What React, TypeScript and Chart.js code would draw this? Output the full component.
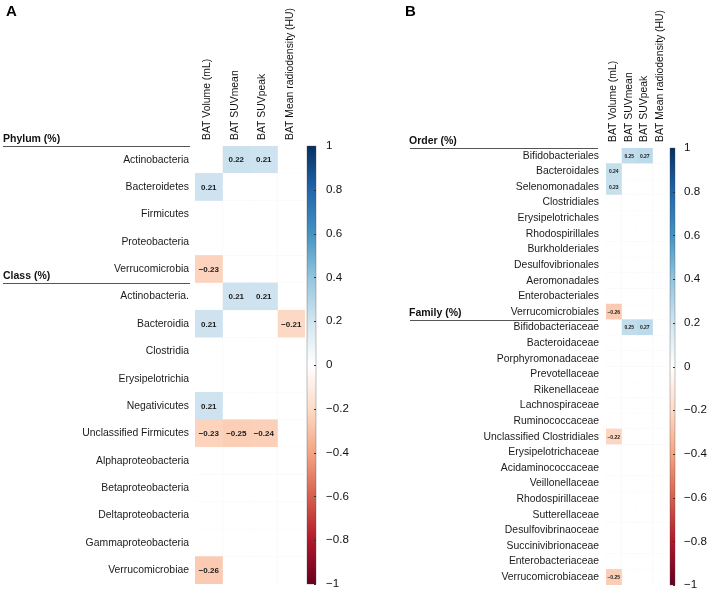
import React, { useEffect, useRef } from 'react';
import { Chart, registerables } from 'chart.js';
Chart.register(...registerables);

const FONT = '"Liberation Sans", Arial, Helvetica, sans-serif';

// ---------- data ----------
const measures = ['BAT Volume (mL)', 'BAT SUVmean', 'BAT SUVpeak', 'BAT Mean radiodensity (HU)'];

const taxaA = [
  'Actinobacteria', 'Bacteroidetes', 'Firmicutes', 'Proteobacteria', 'Verrucomicrobia',
  'Actinobacteria.', 'Bacteroidia', 'Clostridia', 'Erysipelotrichia', 'Negativicutes',
  'Unclassified Firmicutes', 'Alphaproteobacteria', 'Betaproteobacteria', 'Deltaproteobacteria',
  'Gammaproteobacteria', 'Verrucomicrobiae',
];
const groupLabelsA = ['Phylum (%)', 'Class (%)'];
const groupStartA = [0, 5];
const volumeA = [null, 0.21, null, null, -0.23, null, 0.21, null, null, 0.21, -0.23, null, null, null, null, -0.26];
const suvMeanA = [0.22, null, null, null, null, 0.21, null, null, null, null, -0.25, null, null, null, null, null];
const suvPeakA = [0.21, null, null, null, null, 0.21, null, null, null, null, -0.24, null, null, null, null, null];
const radioA = [null, null, null, null, null, null, -0.21, null, null, null, null, null, null, null, null, null];

const taxaB = [
  'Bifidobacteriales', 'Bacteroidales', 'Selenomonadales', 'Clostridiales', 'Erysipelotrichales',
  'Rhodospirillales', 'Burkholderiales', 'Desulfovibrionales', 'Aeromonadales', 'Enterobacteriales',
  'Verrucomicrobiales', 'Bifidobacteriaceae', 'Bacteroidaceae', 'Porphyromonadaceae', 'Prevotellaceae',
  'Rikenellaceae', 'Lachnospiraceae', 'Ruminococcaceae', 'Unclassified Clostridiales', 'Erysipelotrichaceae',
  'Acidaminococcaceae', 'Veillonellaceae', 'Rhodospirillaceae', 'Sutterellaceae', 'Desulfovibrinaoceae',
  'Succinivibrionaceae', 'Enterobacteriaceae', 'Verrucomicrobiaceae',
];
const groupLabelsB = ['Order (%)', 'Family (%)'];
const groupStartB = [0, 11];
const volumeB = [null, 0.24, 0.23, null, null, null, null, null, null, null, -0.26, null, null, null,
  null, null, null, null, -0.22, null, null, null, null, null, null, null, null, -0.25];
const suvMeanB = [0.25, null, null, null, null, null, null, null, null, null, null, 0.25, null, null,
  null, null, null, null, null, null, null, null, null, null, null, null, null, null];
const suvPeakB = [0.27, null, null, null, null, null, null, null, null, null, null, 0.27, null, null,
  null, null, null, null, null, null, null, null, null, null, null, null, null, null];
const radioB = [null, null, null, null, null, null, null, null, null, null, null, null, null, null,
  null, null, null, null, null, null, null, null, null, null, null, null, null, null];

const colorTicks = [1, 0.8, 0.6, 0.4, 0.2, 0, -0.2, -0.4, -0.6, -0.8, -1];
const rdBu = ['#67001F', '#B2182B', '#D6604D', '#F4A582', '#FDDBC7', '#FFFFFF', '#D1E5F0', '#92C5DE', '#4393C3', '#2166AC', '#053061'];

// ---------- helpers ----------
function hexToRgb(h: string) {
  return [parseInt(h.slice(1, 3), 16), parseInt(h.slice(3, 5), 16), parseInt(h.slice(5, 7), 16)];
}
function colorFor(v: number | null) {
  if (v == null) return '#ffffff';
  const t = ((v + 1) / 2) * (rdBu.length - 1);
  const i = Math.min(Math.floor(t), rdBu.length - 2);
  const f = t - i;
  const a = hexToRgb(rdBu[i]);
  const b = hexToRgb(rdBu[i + 1]);
  const c = a.map((x, k) => Math.round(x + (b[k] - x) * f));
  return `rgb(${c[0]},${c[1]},${c[2]})`;
}
const fmtVal = (v: number) => (v < 0 ? '\u2212' : '') + Math.abs(v).toFixed(2);
const fmtTick = (v: number) => {
  const r = Math.round(v * 10) / 10;
  if (r === 0) return '0';
  return (r < 0 ? '\u2212' : '') + String(Math.abs(r));
};
const zeroPad = (axis: any) => {
  axis.paddingTop = 0;
  axis.paddingBottom = 0;
  axis.paddingLeft = 0;
  axis.paddingRight = 0;
};

type PanelProps = {
  left: number;
  width: number;
  letter: string;
  letterX: number;
  taxa: string[];
  columns: (number | null)[][];
  groupLabels: string[];
  groupStart: number[];
  yWidth: number;
  xHeight: number;
  ycWidth: number;
  padBottom: number;
  yPad: number;
  xPad: number;
  xLabelOffset: number;
  ycPad: number;
  cbGap: number;
  cbWidth: number;
  valueFont: number;
  headerX: number;
  lineX0: number;
  lineRightGap: number;
};

function Panel(p: PanelProps) {
  const ref = useRef<HTMLCanvasElement | null>(null);
  useEffect(() => {
    if (!ref.current) return;
    const datasets = p.columns.map((vals, ci) => ({
      label: measures[ci],
      data: p.taxa.map(() => [ci, ci + 1]),
      backgroundColor: vals.map((v) => colorFor(v)),
      borderColor: '#f8f8f8',
      borderWidth: vals.map((v) => (v == null ? 0.5 : 0)),
      borderSkipped: false,
      grouped: false,
      barPercentage: 1,
      categoryPercentage: 1,
      xAxisID: 'x',
      yAxisID: 'y',
    }));

    const decor = {
      id: 'decor',
      afterDatasetsDraw(chart: any) {
        const ctx = chart.ctx as CanvasRenderingContext2D;
        const area = chart.chartArea;
        const ys = chart.scales.y;
        // cell values
        ctx.save();
        ctx.font = `bold ${p.valueFont}px ${FONT}`;
        ctx.fillStyle = '#1a1a1a';
        ctx.textAlign = 'center';
        ctx.textBaseline = 'middle';
        p.columns.forEach((vals, ci) => {
          const meta = chart.getDatasetMeta(ci);
          meta.data.forEach((el: any, ri: number) => {
            const v = vals[ri];
            if (v == null) return;
            const pr = el.getProps(['x', 'base', 'y'], true);
            ctx.fillText(fmtVal(v), (pr.x + pr.base) / 2, pr.y + 0.5);
          });
        });
        ctx.restore();

        // colour bar
        const yc = chart.scales.yc;
        const top = yc.getPixelForValue(1);
        const bot = yc.getPixelForValue(-1);
        const x0 = area.right + p.cbGap;
        const grad = ctx.createLinearGradient(0, bot, 0, top);
        rdBu.forEach((c, i) => grad.addColorStop(i / (rdBu.length - 1), c));
        ctx.save();
        ctx.fillStyle = grad;
        ctx.fillRect(x0, top, p.cbWidth, bot - top);
        ctx.strokeStyle = 'rgba(70,70,70,0.55)';
        ctx.lineWidth = 0.6;
        ctx.strokeRect(x0, top, p.cbWidth, bot - top);
        ctx.strokeStyle = '#333';
        ctx.lineWidth = 1;
        colorTicks.forEach((t) => {
          const y = Math.round(yc.getPixelForValue(t)) + 0.5;
          ctx.beginPath();
          ctx.moveTo(x0 + p.cbWidth - 2, y);
          ctx.lineTo(x0 + p.cbWidth, y);
          ctx.stroke();
        });
        ctx.restore();

        // group headers
        const rowH = (area.bottom - area.top) / p.taxa.length;
        ctx.save();
        p.groupLabels.forEach((g, gi) => {
          const ly = ys.getPixelForValue(p.groupStart[gi]) - rowH / 2;
          ctx.strokeStyle = '#555';
          ctx.lineWidth = 1;
          ctx.beginPath();
          ctx.moveTo(p.lineX0, Math.round(ly) + 0.5);
          ctx.lineTo(area.left - p.lineRightGap, Math.round(ly) + 0.5);
          ctx.stroke();
          ctx.font = `bold 10.5px ${FONT}`;
          ctx.fillStyle = '#111';
          ctx.textAlign = 'left';
          ctx.textBaseline = 'alphabetic';
          ctx.fillText(g, p.headerX, ly - 4);
        });
        // panel letter
        ctx.font = `bold 15px ${FONT}`;
        ctx.fillStyle = '#000';
        ctx.fillText(p.letter, p.letterX, 16);
        ctx.restore();
      },
    };

    const chart = new Chart(ref.current, {
      type: 'bar',
      data: { labels: p.taxa, datasets: datasets as any },
      options: {
        indexAxis: 'y',
        responsive: false,
        animation: false,
        events: [],
        layout: { padding: { left: 0, top: 0, right: 0, bottom: p.padBottom } },
        plugins: { legend: { display: false }, tooltip: { enabled: false }, title: { display: false } },
        scales: {
          x: {
            type: 'linear',
            position: 'top',
            min: 0,
            max: measures.length,
            offset: false,
            grid: { display: false, drawTicks: false },
            border: { display: false },
            afterBuildTicks: (axis: any) => {
              axis.ticks = measures.map((_, i) => ({ value: i + 0.5 }));
            },
            afterFit: (axis: any) => {
              axis.height = p.xHeight;
              zeroPad(axis);
            },
            ticks: {
              autoSkip: false,
              minRotation: 90,
              maxRotation: 90,
              padding: p.xPad,
              labelOffset: p.xLabelOffset,
              color: '#111',
              font: { family: FONT, size: 10.4 },
              callback: (_v: any, i: number) => measures[i],
            },
          },
          y: {
            type: 'category',
            position: 'left',
            labels: p.taxa,
            offset: true,
            grid: { display: false, drawTicks: false },
            border: { display: false },
            afterFit: (axis: any) => {
              axis.width = p.yWidth;
              zeroPad(axis);
            },
            ticks: {
              autoSkip: false,
              padding: p.yPad,
              color: '#1a1a1a',
              font: { family: FONT, size: 10.4 },
            },
          },
          yc: {
            type: 'linear',
            position: 'right',
            min: -1,
            max: 1,
            offset: false,
            grid: { display: false, drawTicks: false, offset: false },
            border: { display: false },
            afterBuildTicks: (axis: any) => {
              axis.ticks = colorTicks.map((v) => ({ value: v }));
            },
            afterFit: (axis: any) => {
              axis.width = p.ycWidth;
              zeroPad(axis);
            },
            ticks: {
              autoSkip: false,
              padding: p.ycPad,
              color: '#111',
              font: { family: FONT, size: 11.6 },
              callback: (v: any) => fmtTick(Number(v)),
            },
          },
        },
      } as any,
      plugins: [decor],
    });
    return () => chart.destroy();
  }, []);
  return (
    <canvas
      ref={ref}
      width={p.width}
      height={591}
      style={{ position: 'absolute', left: p.left, top: 0, width: p.width, height: 591 }}
    />
  );
}

export default function App() {
  return (
    <div style={{ position: 'fixed', left: 0, top: 0, width: 708, height: 591, background: '#fff', overflow: 'hidden' }}>
      <Panel
        left={0}
        width={360}
        letter="A"
        letterX={6}
        taxa={taxaA}
        columns={[volumeA, suvMeanA, suvPeakA, radioA]}
        groupLabels={groupLabelsA}
        groupStart={groupStartA}
        yWidth={195}
        xHeight={146}
        ycWidth={55}
        padBottom={7}
        yPad={6}
        xPad={6}
        xLabelOffset={11}
        ycPad={21}
        cbGap={2}
        cbWidth={9}
        valueFont={8}
        headerX={3}
        lineX0={3}
        lineRightGap={5}
      />
      <Panel
        left={360}
        width={348}
        letter="B"
        letterX={45}
        taxa={taxaB}
        columns={[volumeB, suvMeanB, suvPeakB, radioB]}
        groupLabels={groupLabelsB}
        groupStart={groupStartB}
        yWidth={246}
        xHeight={148}
        ycWidth={40}
        padBottom={6}
        yPad={7}
        xPad={6}
        xLabelOffset={12}
        ycPad={16}
        cbGap={2}
        cbWidth={5}
        valueFont={5}
        headerX={49}
        lineX0={50}
        lineRightGap={8}
      />
    </div>
  );
}
